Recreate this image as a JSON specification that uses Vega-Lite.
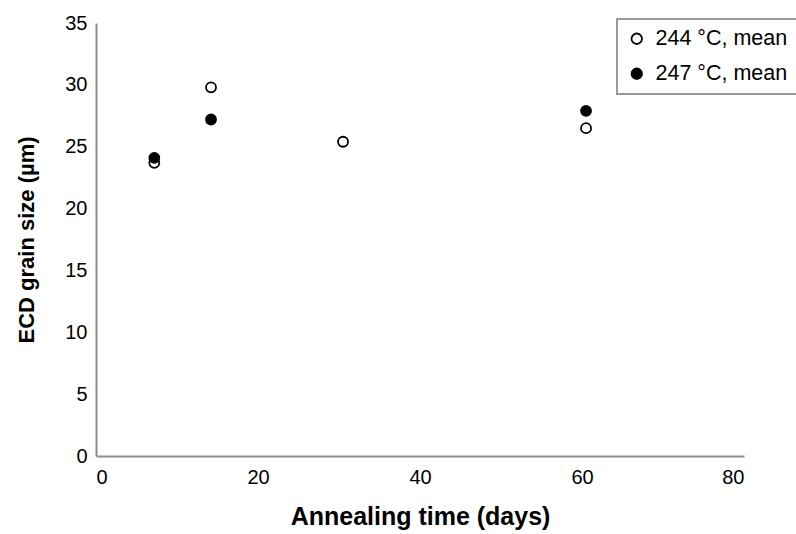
{
  "$schema": "https://vega.github.io/schema/vega-lite/v6.json",
  "width": 648,
  "height": 433,
  "autosize": {"type": "none"},
  "padding": {"left": 96, "top": 23, "right": 52, "bottom": 78},
  "background": "white",
  "config": {
    "view": {"stroke": null},
    "font": "Liberation Sans",
    "axis": {"grid": false, "ticks": false, "domainColor": "#8c8c8c", "domainWidth": 2, "labelFont": "Liberation Sans", "labelFontSize": 20, "labelColor": "#000000", "titleFont": "Liberation Sans", "titleFontWeight": "bold", "titleColor": "#000000"}
  },
  "data": {
    "values": [
      {"series": "244 °C, mean", "days": 7.2, "size": 23.7},
      {"series": "244 °C, mean", "days": 14.2, "size": 29.8},
      {"series": "244 °C, mean", "days": 30.5, "size": 25.4},
      {"series": "244 °C, mean", "days": 60.5, "size": 26.5},
      {"series": "247 °C, mean", "days": 7.2, "size": 24.1},
      {"series": "247 °C, mean", "days": 14.2, "size": 27.2},
      {"series": "247 °C, mean", "days": 60.5, "size": 27.9}
    ]
  },
  "mark": {"type": "point", "shape": "circle", "filled": true, "stroke": "black", "strokeWidth": 1.8, "size": 100, "opacity": 1},
  "encoding": {
    "x": {"field": "days", "type": "quantitative", "scale": {"domain": [0, 80], "nice": false}, "axis": {"values": [0, 20, 40, 60, 80], "title": "Annealing time (days)", "titleFontSize": 25, "labelPadding": 11, "titlePadding": 17}},
    "y": {"field": "size", "type": "quantitative", "scale": {"domain": [0, 35], "nice": false}, "axis": {"values": [0, 5, 10, 15, 20, 25, 30, 35], "title": "ECD grain size (µm)", "titleFontSize": 22, "labelPadding": 9, "titlePadding": 26}},
    "fill": {"field": "series", "type": "nominal", "scale": {"domain": ["244 °C, mean", "247 °C, mean"], "range": ["white", "black"]},
      "legend": {"title": null, "orient": "none", "legendX": 521, "legendY": -4, "labelFontSize": 21.5, "labelFont": "Liberation Sans", "labelColor": "#000000", "symbolType": "circle", "symbolSize": 110, "symbolStrokeColor": "black", "symbolStrokeWidth": 1.8, "symbolOpacity": 1, "rowPadding": 12, "padding": 9, "strokeColor": "#999999", "fillColor": "white", "labelOffset": 8,
        "encode": {"legend": {"update": {"strokeWidth": {"value": 2}}}}}}
  }
}
